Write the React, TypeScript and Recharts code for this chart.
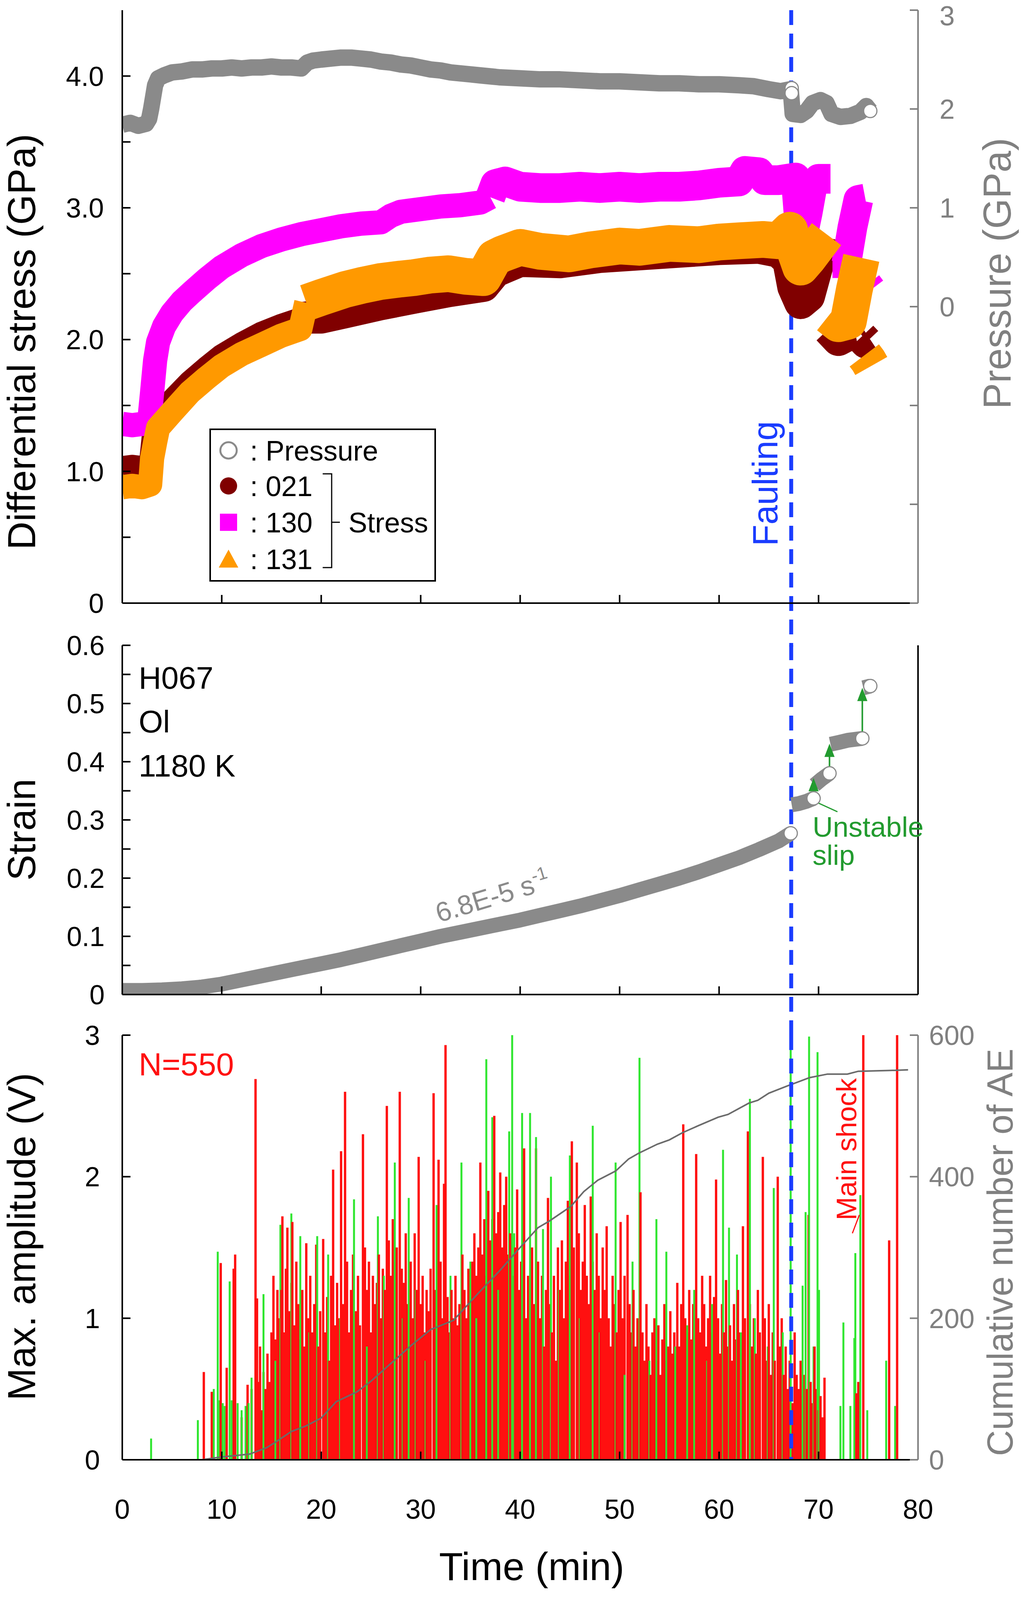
import React from 'react';
import { ComposedChart, Line, Bar, Scatter, XAxis, YAxis, ReferenceLine, Legend } from 'recharts';

const FONT = '"Liberation Sans", Arial, Helvetica, sans-serif';
const W = 2652;
const GREY = '#8a8a8a';
const AXIS_GREY = '#808080';
const BLUE = '#1a3cff';
const MAGENTA = '#ff00ff';
const ORANGE = '#ff9900';
const DARKRED = '#800000';
const GREEN = '#229b2f';
const AE_RED = '#ff1010';
const AE_GREEN = '#2fe62f';

// ---------- ticks ----------
const timeTicks = [0, 10, 20, 30, 40, 50, 60, 70, 80];
const stressTicks = [0, 0.5, 1, 1.5, 2, 2.5, 3, 3.5, 4];
const pressureTicks = [-3, -2, -1, 0, 1, 2, 3];
const strainTicks = [0, 0.05, 0.1, 0.15, 0.2, 0.25, 0.3, 0.35, 0.4, 0.45, 0.5, 0.55, 0.6];
const strainLabels = ['0', '', '0.1', '', '0.2', '', '0.3', '', '0.4', '', '0.5', '', '0.6'];
const ampTicks = [0, 1, 2, 3];
const aeTicks = [0, 200, 400, 600];

const faultTime = 67.25;

// ---------- top panel: pressure (GPa, right axis) ----------
const pressure: [number, number][] = [
  [0, 1.84], [0.8, 1.86], [1.6, 1.83], [2.4, 1.85], [2.7, 1.9], [2.9, 2.0], [3.1, 2.12], [3.3, 2.24], [3.6, 2.31],
  [4.2, 2.34], [5, 2.37], [6, 2.38], [7, 2.4], [8, 2.4], [9, 2.41], [10, 2.41], [11, 2.42], [12, 2.41], [13, 2.42],
  [14, 2.42], [15, 2.43], [16, 2.42], [17, 2.42], [18, 2.41], [18.6, 2.47], [19.2, 2.49], [20, 2.5], [21, 2.51],
  [22, 2.52], [23, 2.52], [24, 2.51], [25, 2.5], [26, 2.48], [27, 2.47], [28, 2.45], [29, 2.44], [30, 2.42],
  [31, 2.4], [32, 2.39], [33, 2.37], [34, 2.36], [35, 2.35], [36, 2.34], [37, 2.33], [38, 2.32], [40, 2.31],
  [42, 2.3], [44, 2.3], [46, 2.29], [48, 2.28], [50, 2.28], [52, 2.27], [54, 2.26], [56, 2.26], [58, 2.25],
  [60, 2.25], [62, 2.24], [63.5, 2.23], [65, 2.2], [66.2, 2.18], [67.2, 2.2], [67.4, 1.95], [68.2, 1.94],
  [68.8, 1.98], [69.4, 2.06], [70.2, 2.09], [70.8, 2.06], [71.3, 1.95], [72.2, 1.92], [73.2, 1.93], [74.2, 1.97],
  [74.8, 2.03], [75.2, 1.98],
];
const pressureEnds: [number, number][] = [[67.3, 2.21], [67.3, 2.16], [75.2, 1.98]];

// ---------- top panel: differential stress (GPa, left axis) ----------
// loading ramp (narrow scatter) and flow part (wider scatter) of each reflection
const stress021Ramp: [number, number | null][] = [
  [0, 1.03], [1, 1.04], [2, 1.03], [2.8, 1.05], [3.1, 1.27], [3.6, 1.42], [5, 1.54], [6.8, 1.68], [8.5, 1.79],
  [10, 1.88], [12, 1.97], [14, 2.05], [16, 2.11], [18, 2.16],
];
const stress021Flow: [number, number | null][] = [
  [18, 2.16], [19, 2.17], [20, 2.17], [22.4, 2.21], [25.9, 2.27], [29.3, 2.32], [32.8, 2.37], [36.3, 2.41],
  [37.5, 2.52], [40, 2.6], [44, 2.59], [48, 2.63], [52, 2.65], [56, 2.67], [60, 2.69], [64, 2.7], [66, 2.67],
  [67.0, 2.6], [67.5, 2.4], [68.2, 2.28], [69, 2.33], [69.8, 2.55], [70.5, 2.78], [70.9, null], [71.0, 2.08],
  [72, 2.0], [73, 2.04], [73.7, 2.05], [73.8, null], [74.3, 2.02], [74.8, 1.98], [75.2, 2.0],
];
const stress130Ramp: [number, number | null][] = [
  [0, 1.36], [1, 1.35], [2, 1.36], [2.7, 1.37], [3.0, 1.6], [3.3, 1.84], [3.6, 1.98], [4.2, 2.1], [5, 2.2],
  [6, 2.29], [7, 2.36], [8.5, 2.46], [10, 2.55], [12, 2.64], [14, 2.71], [16, 2.76], [18, 2.8], [20, 2.83],
  [22, 2.86], [24, 2.88], [26, 2.89], [27, 2.94], [28, 2.97], [30, 2.99], [32, 3.01], [34, 3.02], [36, 3.04],
  [37, 3.08],
];
const stress130Flow: [number, number | null][] = [
  [37, 3.08], [37.5, 3.18], [38.5, 3.2], [40, 3.16], [42, 3.15], [44, 3.15], [46, 3.16], [48, 3.15], [50, 3.16],
  [52, 3.15], [54, 3.16], [56, 3.16], [58, 3.17], [60, 3.19], [62, 3.2], [62.6, 3.28], [64, 3.27], [64.6, 3.21],
  [66, 3.21], [67.7, 3.23], [68.1, 2.85], [68.4, 2.78], [68.9, 2.96], [69.4, 3.17], [70, 3.22], [71.2, 3.22],
  [71.3, null], [71.4, 2.58], [72.8, 2.58], [73.4, 2.85], [74, 3.06], [74.7, 3.07], [74.8, null], [74.9, 2.42],
  [75.3, 2.38],
];
const stress131Ramp: [number, number | null][] = [
  [0, 0.88], [1, 0.89], [2, 0.88], [2.8, 0.9], [3.0, 1.1], [3.3, 1.22], [3.6, 1.33], [5, 1.45], [6.8, 1.6],
  [8.5, 1.71], [10, 1.8], [12, 1.89], [14, 1.96], [16, 2.03], [17.9, 2.08], [18.5, 2.28],
];
const stress131Flow: [number, number | null][] = [
  [18.5, 2.28], [20, 2.32], [22.4, 2.38], [24, 2.41], [25.9, 2.44], [28, 2.46], [29.3, 2.47], [31, 2.49],
  [32.8, 2.5], [34.5, 2.48], [36.3, 2.47], [37.4, 2.62], [38.2, 2.65], [40, 2.7], [42, 2.67], [44.9, 2.65],
  [47, 2.68], [50, 2.71], [52, 2.7], [55, 2.73], [58, 2.72], [60, 2.74], [62, 2.75], [64.4, 2.76], [66, 2.75],
  [67.1, 2.83], [67.6, 2.68], [68.2, 2.55], [69, 2.62], [70, 2.72], [70.8, 2.8], [70.9, null], [71.0, 2.18],
  [72, 2.12], [73, 2.14], [73.6, 2.38], [74.3, 2.62], [74.4, null], [74.6, 1.88], [75.0, 1.84], [75.3, 1.8],
];

// ---------- middle panel: strain ----------
const strain: [number, number | null][] = [
  [0, 0.007], [2, 0.007], [4, 0.008], [6, 0.01], [8, 0.013], [10, 0.018], [12, 0.025], [14, 0.032], [16, 0.039],
  [18, 0.046], [20, 0.053], [22, 0.06], [24, 0.068], [26, 0.076], [28, 0.084], [30, 0.092], [32, 0.1],
  [34, 0.107], [36, 0.114], [38, 0.121], [40, 0.128], [42, 0.136], [44, 0.144], [46, 0.152], [48, 0.161],
  [50, 0.17], [52, 0.18], [54, 0.19], [56, 0.2], [58, 0.211], [60, 0.223], [62, 0.235], [64, 0.249],
  [66, 0.264], [67.2, 0.277], [67.25, null], [67.3, 0.326], [68, 0.328], [68.8, 0.332], [69.5, 0.337],
  [69.55, null], [69.6, 0.36], [70.3, 0.37], [71.1, 0.38], [71.15, null], [71.2, 0.43], [72, 0.433],
  [73, 0.437], [74.4, 0.44], [74.45, null], [74.5, 0.527], [75.2, 0.53],
];
const strainEnds: [number, number][] = [[67.2, 0.277], [69.5, 0.337], [71.1, 0.38], [74.4, 0.44], [75.2, 0.53]];
// [time, from strain, to strain]
const slipArrows: [number, number, number][] = [[69.5, 0.34, 0.372], [71.1, 0.389, 0.431], [74.4, 0.45, 0.527]];

// ---------- bottom panel: acoustic emission ----------
const redEvents: [number, number][] = [
  [8.2, 0.62], [9.0, 0.48], [9.9, 1.39], [10.5, 0.65], [11.2, 1.35], [11.35, 1.45], [12.0, 0.3], [12.6, 0.53], [13.0, 0.5],
  [13.4, 2.69], [13.55, 1.14], [13.7, 0.55], [13.85, 0.8], [14.0, 0.35], [14.2, 0.62], [14.4, 0.5], [14.6, 0.75], [14.8, 0.55],
  [15.0, 0.9], [15.2, 1.3], [15.4, 0.85], [15.6, 1.2], [15.8, 1.0], [16.0, 1.2], [16.1, 1.72], [16.3, 0.9], [16.45, 1.35],
  [16.6, 1.64], [16.8, 1.05], [17.0, 1.25], [17.1, 1.68], [17.3, 0.95], [17.5, 1.4], [17.7, 1.1], [17.9, 0.85], [18.1, 1.2],
  [18.3, 0.8], [18.5, 1.53], [18.7, 1.0], [18.9, 1.3], [19.1, 0.9], [19.3, 1.1], [19.5, 1.52], [19.7, 0.8], [19.9, 1.05],
  [20.2, 1.56], [20.4, 0.9], [20.6, 1.15], [20.8, 0.7], [21.0, 1.3], [21.2, 2.05], [21.4, 0.95], [21.6, 1.25], [21.8, 1.0],
  [22.0, 2.18], [22.2, 1.1], [22.4, 2.6], [22.6, 1.4], [22.8, 0.9], [23.0, 1.2], [23.2, 1.45], [23.5, 1.05], [23.7, 1.3],
  [23.9, 0.95], [24.2, 2.3], [24.4, 1.5], [24.6, 1.2], [24.8, 1.4], [25.0, 0.9], [25.2, 1.3], [25.4, 1.1], [25.6, 1.25],
  [25.8, 1.45], [26.0, 1.0], [26.2, 1.35], [26.4, 1.2], [26.6, 2.5], [26.8, 1.55], [27.0, 1.3], [27.2, 1.7], [27.4, 1.4],
  [27.6, 1.5], [27.9, 2.6], [28.1, 1.35], [28.3, 1.25], [28.5, 1.6], [28.7, 1.1], [29.0, 1.4], [29.2, 1.0], [29.4, 1.6],
  [29.6, 1.2], [29.8, 2.14], [30.0, 1.1], [30.2, 1.3], [30.4, 0.9], [30.6, 1.2], [30.8, 1.05], [31.0, 1.35], [31.3, 2.59],
  [31.5, 1.2], [31.8, 2.12], [32.0, 1.4], [32.2, 1.0], [32.35, 1.95], [32.5, 2.93], [32.7, 1.15], [32.9, 0.9], [33.1, 1.2],
  [33.3, 1.0], [33.5, 1.3], [33.7, 0.95], [33.9, 1.1], [34.2, 1.45], [34.4, 1.2], [34.6, 1.0], [34.8, 1.35], [35.0, 1.15],
  [35.2, 1.4], [35.4, 1.6], [35.6, 1.3], [35.8, 1.5], [36.0, 2.1], [36.2, 1.45], [36.4, 1.7], [36.6, 1.3], [36.8, 1.9],
  [37.0, 1.55], [37.2, 1.7], [37.4, 2.43], [37.6, 1.6], [37.8, 1.75], [38.0, 2.03], [38.2, 1.5], [38.4, 1.8], [38.6, 2.0],
  [38.8, 1.45], [39.0, 1.6], [39.2, 1.3], [39.5, 1.5], [39.7, 1.91], [39.9, 1.2], [40.1, 1.4], [40.4, 2.2], [40.6, 1.0],
  [40.8, 1.3], [41.0, 0.9], [41.2, 1.5], [41.4, 1.1], [41.6, 2.2], [41.8, 1.4], [42.0, 1.0], [42.2, 1.3], [42.4, 0.8],
  [42.6, 1.2], [42.8, 1.85], [43.0, 1.1], [43.2, 0.9], [43.4, 1.3], [43.6, 0.7], [43.8, 1.5], [44.0, 1.2], [44.2, 1.55],
  [44.4, 1.0], [44.6, 1.4], [44.8, 1.83], [45.0, 1.3], [45.2, 2.25], [45.4, 1.5], [45.7, 2.1], [45.9, 1.6], [46.1, 1.2],
  [46.3, 1.4], [46.5, 1.8], [46.7, 1.3], [46.9, 1.1], [47.1, 1.86], [47.3, 1.4], [47.5, 1.2], [47.7, 1.6], [47.9, 1.3],
  [48.1, 1.0], [48.3, 1.5], [48.5, 1.2], [48.7, 1.65], [48.9, 1.0], [49.1, 0.8], [49.3, 1.3], [49.5, 1.1], [49.7, 0.9],
  [49.9, 1.2], [50.1, 1.68], [50.3, 1.0], [50.5, 1.3], [50.8, 1.73], [51.0, 1.1], [51.2, 0.9], [51.4, 1.2], [51.6, 0.8],
  [51.8, 1.0], [52.1, 1.89], [52.3, 0.9], [52.5, 0.7], [52.7, 1.1], [52.9, 0.8], [53.1, 0.6], [53.3, 0.9], [53.5, 1.0],
  [53.7, 0.7], [53.9, 0.95], [54.1, 0.6], [54.3, 0.85], [54.5, 1.1], [54.7, 0.7], [54.9, 0.8], [55.1, 1.05], [55.3, 0.75],
  [55.5, 0.9], [55.8, 1.25], [56.0, 0.8], [56.2, 1.1], [56.4, 2.37], [56.6, 1.0], [56.8, 0.9], [57.0, 1.2], [57.2, 0.85],
  [57.4, 1.1], [57.7, 2.16], [57.9, 1.0], [58.1, 0.9], [58.3, 1.3], [58.5, 1.1], [58.7, 0.8], [58.9, 1.0], [59.1, 1.3],
  [59.3, 0.9], [59.5, 1.15], [59.7, 1.98], [59.9, 1.0], [60.1, 0.75], [60.3, 1.1], [60.5, 0.9], [60.7, 1.27], [60.9, 0.8],
  [61.1, 0.95], [61.3, 0.7], [61.5, 1.1], [61.7, 0.85], [61.9, 1.2], [62.1, 0.9], [62.4, 1.65], [62.6, 1.0], [62.9, 2.32],
  [63.1, 1.1], [63.3, 0.8], [63.5, 1.0], [63.7, 0.75], [63.9, 1.2], [64.1, 0.9], [64.4, 2.14], [64.6, 1.0], [64.8, 0.7],
  [65.0, 1.1], [65.2, 0.6], [65.4, 0.9], [65.6, 0.7], [65.9, 2.0], [66.1, 0.8], [66.3, 1.0], [66.5, 0.6], [66.7, 0.8],
  [66.9, 0.5], [67.1, 0.7], [67.4, 0.4], [67.6, 0.9], [67.8, 0.6], [68.0, 0.5], [68.2, 0.7], [68.4, 0.45], [68.6, 0.6],
  [68.8, 0.5], [69.0, 1.73], [69.2, 0.55], [69.4, 0.4], [69.6, 0.8], [69.8, 0.5], [70.0, 0.35], [70.2, 0.45], [70.4, 0.3],
  [70.6, 0.58], [73.8, 0.47], [74.0, 0.55], [74.5, 3.0], [77.1, 1.55], [77.9, 3.0],
];
const greenEvents: [number, number][] = [
  [2.9, 0.15], [7.6, 0.28], [9.2, 0.5], [9.6, 1.47], [9.8, 0.42], [10.1, 0.4], [10.3, 0.38], [10.8, 1.26], [11.0, 0.42],
  [11.6, 0.4], [12.0, 0.35], [12.4, 0.38], [12.7, 0.4], [13.0, 0.58], [14.2, 1.17], [15.4, 0.7], [15.9, 1.66], [17.0, 1.74],
  [17.9, 1.58], [18.8, 0.9], [19.6, 1.58], [20.7, 1.45], [21.9, 1.0], [23.3, 1.84], [24.6, 0.8], [25.7, 1.72], [26.3, 1.3],
  [27.4, 2.1], [28.2, 1.0], [28.8, 1.85], [29.5, 1.2], [30.5, 0.7], [31.6, 1.8], [33.0, 1.3], [34.1, 2.1], [35.0, 1.4],
  [35.6, 1.0], [36.6, 2.83], [37.2, 2.42], [37.8, 1.2], [38.9, 2.32], [39.2, 3.0], [39.4, 1.6], [40.2, 2.45], [41.0, 2.45],
  [41.6, 2.28], [42.3, 1.63], [43.1, 2.0], [43.9, 1.2], [45.0, 2.15], [46.0, 1.0], [47.3, 2.36], [48.0, 0.9], [49.6, 2.1],
  [50.5, 0.6], [51.3, 1.4], [52.0, 2.84], [53.0, 0.7], [53.7, 1.7], [54.7, 1.47], [55.6, 0.8], [56.8, 0.95], [57.5, 1.2],
  [58.8, 0.7], [59.3, 1.1], [60.4, 2.19], [61.0, 1.64], [61.8, 1.45], [62.2, 0.9], [63.1, 2.55], [63.6, 1.0], [64.9, 0.8],
  [65.5, 1.92], [66.4, 0.9], [67.2, 2.95], [68.4, 1.23], [68.7, 1.75], [69.05, 2.99], [69.5, 0.8], [69.9, 2.88], [70.05, 1.2],
  [72.2, 0.38], [72.5, 0.97], [73.2, 0.38], [73.6, 0.86], [73.7, 1.46], [74.2, 1.87], [74.9, 0.35], [76.8, 0.7], [77.7, 0.38],
];
const cumulativeAE: [number, number][] = [
  [0, 0], [8, 0], [10, 4], [12.8, 8], [14.5, 17], [15.2, 23], [17, 40], [18.5, 48], [20, 59], [21.5, 82], [23.6, 96],
  [25, 111], [27, 136], [29, 161], [31, 184], [33.3, 197], [35.7, 234], [38, 268], [40, 300], [41.8, 328], [42.9, 337],
  [45.1, 358], [46.4, 379], [47.8, 395], [49.6, 408], [50.9, 425], [51.9, 433], [53.8, 446], [55, 452], [56.3, 462],
  [57.9, 472], [59.9, 484], [60.9, 488], [63, 504], [63.9, 508], [65, 518], [67, 529], [69.1, 540], [70.9, 545],
  [72.9, 545], [74, 549], [77, 550], [79, 551],
];

// ---------- tables built from the arrays ----------
const rows = (arr: [number, number | null][], key: string) => arr.map(([t, v]) => ({ t, [key]: v }));
const pressureRows = rows(pressure, 'p');
const pressureEndRows = rows(pressureEnds, 'p');
const strainRows = rows(strain, 'e');
const strainEndRows = rows(strainEnds, 'e');
const cumRows = rows(cumulativeAE, 'n');
const eventRows = [
  ...redEvents.map(([t, a]) => ({ t, amp: a, c: AE_RED, w: 6 })),
  ...greenEvents.map(([t, a]) => ({ t, amp: a, c: AE_GREEN, w: 5 })),
].sort((a, b) => a.t - b.t);

const stressSeries = [
  { rows: rows(stress021Ramp, 's'), color: DARKRED, width: 58 },
  { rows: rows(stress021Flow, 's'), color: DARKRED, width: 84 },
  { rows: rows(stress130Ramp, 's'), color: MAGENTA, width: 62 },
  { rows: rows(stress130Flow, 's'), color: MAGENTA, width: 76 },
  { rows: rows(stress131Ramp, 's'), color: ORANGE, width: 62 },
  { rows: rows(stress131Flow, 's'), color: ORANGE, width: 94 },
];

// ---------- styles ----------
const blackLine = { stroke: '#000', strokeWidth: 4 };
const greyLine = { stroke: AXIS_GREY, strokeWidth: 4 };
const tickFont = { fontSize: 70, fill: '#000', fontFamily: FONT };
const tickFontGrey = { fontSize: 70, fill: AXIS_GREY, fontFamily: FONT };

const PressureTick = (p: any) => {
  const v = p.payload && p.payload.value;
  if (v === undefined || v < 0) return <g />;
  return (
    <text x={p.x} y={p.y + (v === 3 ? 14 : 0)} dy="0.36em" textAnchor="start" fontSize={70} fill={AXIS_GREY}
      fontFamily={FONT}>{String(v)}</text>
  );
};

const OpenCircle = (p: any) => (
  <circle cx={p.cx} cy={p.cy} r={17} fill="#fff" stroke={GREY} strokeWidth={3} />
);

const AEBar = (p: any) => {
  if (!p || !p.payload || !(p.height > 0)) return <g />;
  const w = p.payload.w;
  const cx = p.x + p.width / 2;
  return <rect x={cx - w / 2} y={p.y} width={w} height={p.height} fill={p.payload.c} />;
};

const Arrow = (p: any) => {
  const { x1, y1, x2, y2 } = p;
  const head = 34;
  const half = 13;
  return (
    <g>
      <line x1={x1} y1={y1} x2={x2} y2={y2 + head - 4} stroke={GREEN} strokeWidth={4} />
      <polygon points={`${x2},${y2} ${x2 - half},${y2 + head} ${x2 + half},${y2 + head}`} fill={GREEN} />
    </g>
  );
};

const LegendBox = () => (
  <svg width={580} height={392} style={{ display: 'block', fontFamily: FONT }}>
    <rect x={2} y={2} width={576} height={388} fill="#fff" stroke="#000" strokeWidth={4} />
    <circle cx={49} cy={56} r={21} fill="#fff" stroke={GREY} strokeWidth={5} />
    <text x={104} y={82} fontSize={72}>: Pressure</text>
    <circle cx={49} cy={147} r={22} fill={DARKRED} />
    <text x={104} y={173} fontSize={72}>: 021</text>
    <rect x={27} y={218} width={44} height={44} fill={MAGENTA} />
    <text x={104} y={266} fontSize={72}>: 130</text>
    <polygon points="49,310 74,356 24,356" fill={ORANGE} />
    <text x={104} y={360} fontSize={72}>: 131</text>
    <path d="M 290 116 H 313 V 356 H 290" fill="none" stroke="#000" strokeWidth={3} />
    <line x1={313} y1={240} x2={334} y2={240} stroke="#000" strokeWidth={3} />
    <text x={356} y={266} fontSize={72}>Stress</text>
  </svg>
);

const TopPanel = () => (
  <ComposedChart width={W} height={1660} margin={{ top: 26, right: 0, bottom: 86, left: 0 }}>
    <XAxis dataKey="t" type="number" domain={[0, 80]} ticks={timeTicks} interval={0} tickFormatter={() => ''}
      tickSize={-21} axisLine={blackLine} tickLine={blackLine} height={30} allowDataOverflow />
    <XAxis xAxisId="top" orientation="top" type="number" domain={[0, 80]} height={0} tick={false}
      tickLine={false} axisLine={blackLine} />
    <YAxis yAxisId="s" type="number" domain={[0, 4.5]} ticks={stressTicks} interval={0} width={313}
      tickFormatter={(v: number) => (v === 0 ? '0' : Number.isInteger(v) ? v.toFixed(1) : '')}
      tickSize={-21} tickMargin={68} axisLine={blackLine} tickLine={blackLine} tick={tickFont} allowDataOverflow />
    <YAxis yAxisId="p" orientation="right" type="number" domain={[-3, 3]} ticks={pressureTicks} interval={0}
      width={302} tickSize={-21} tickMargin={76} axisLine={greyLine} tickLine={greyLine} tick={PressureTick}
      allowDataOverflow />
    <ReferenceLine yAxisId="s" segment={[{ x: faultTime, y: 4.5 }, { x: faultTime, y: -0.33 }]} ifOverflow="visible"
      stroke={BLUE} strokeWidth={10} strokeDasharray="38 22" />
    <Line yAxisId="p" data={pressureRows} dataKey="p" type="linear" stroke={GREY} strokeWidth={42}
      strokeLinejoin="round" dot={false} isAnimationActive={false} />
    <Scatter yAxisId="p" data={pressureEndRows} dataKey="p" shape={OpenCircle} isAnimationActive={false} />
    {stressSeries.map((s, i) => (
      <Line key={i} yAxisId="s" data={s.rows} dataKey="s" type="linear" stroke={s.color} strokeWidth={s.width}
        strokeLinejoin="round" dot={false} isAnimationActive={false} />
    ))}
    <Legend layout="vertical" align="center" verticalAlign="middle" content={() => <LegendBox />}
      wrapperStyle={{ position: 'absolute', left: 536, top: 1097, width: 580, height: 392 }} />
  </ComposedChart>
);

const MiddlePanel = () => (
  <ComposedChart width={W} height={1060} margin={{ top: 52, right: 0, bottom: 84, left: 0 }}>
    <XAxis dataKey="t" type="number" domain={[0, 80]} ticks={timeTicks} interval={0} tickFormatter={() => ''}
      tickSize={-21} axisLine={blackLine} tickLine={blackLine} height={30} allowDataOverflow />
    <XAxis xAxisId="top" orientation="top" type="number" domain={[0, 80]} height={0} tick={false}
      tickLine={false} axisLine={blackLine} />
    <YAxis yAxisId="e" type="number" domain={[0, 0.6]} ticks={strainTicks} interval={0} width={313}
      tickFormatter={(v: number, i: number) => strainLabels[i] ?? ''}
      tickSize={-21} tickMargin={66} axisLine={blackLine} tickLine={blackLine} tick={tickFont} allowDataOverflow />
    <YAxis yAxisId="r" orientation="right" type="number" domain={[0, 1]} width={302} tick={false}
      tickLine={false} axisLine={blackLine} />
    <ReferenceLine yAxisId="e" segment={[{ x: faultTime, y: 0.6 }, { x: faultTime, y: -0.071 }]} ifOverflow="visible"
      stroke={BLUE} strokeWidth={10} strokeDasharray="38 22" />
    <Line yAxisId="e" data={strainRows} dataKey="e" type="linear" stroke={GREY} strokeWidth={38}
      strokeLinejoin="round" dot={false} isAnimationActive={false} />
    <Scatter yAxisId="e" data={strainEndRows} dataKey="e" shape={OpenCircle} isAnimationActive={false} />
    {slipArrows.map(([t, a, b], i) => (
      <ReferenceLine key={i} yAxisId="e" segment={[{ x: t, y: a }, { x: t, y: b }]} shape={Arrow} />
    ))}
    <ReferenceLine yAxisId="e" segment={[{ x: 69.6, y: 0.332 }, { x: 71.9, y: 0.314 }]} stroke={GREEN} strokeWidth={3} />
  </ComposedChart>
);

const BottomPanel = () => (
  <ComposedChart width={W} height={1500} data={eventRows} margin={{ top: 50, right: 0, bottom: 213, left: 0 }}>
    <XAxis dataKey="t" type="number" domain={[0, 80]} ticks={timeTicks} interval={0} tickSize={-21} tickMargin={122}
      axisLine={blackLine} tickLine={blackLine} tick={tickFont} height={150} allowDataOverflow />
    <XAxis xAxisId="top" orientation="top" type="number" domain={[0, 80]} ticks={timeTicks} interval={0} height={0}
      tick={false} tickSize={-21} tickLine={blackLine} axisLine={blackLine} />
    <YAxis yAxisId="a" type="number" domain={[0, 3]} ticks={ampTicks} interval={0} width={313} tickSize={-21}
      tickMargin={78} axisLine={blackLine} tickLine={blackLine} tick={tickFont} allowDataOverflow />
    <YAxis yAxisId="ae" orientation="right" type="number" domain={[0, 600]} ticks={aeTicks} interval={0} width={302}
      tickSize={-21} tickMargin={49} axisLine={greyLine} tickLine={greyLine} tick={tickFontGrey} allowDataOverflow />
    <Bar yAxisId="a" dataKey="amp" barSize={6} shape={AEBar} isAnimationActive={false} />
    <Line yAxisId="ae" data={cumRows} dataKey="n" type="linear" stroke="#6a6a6a" strokeWidth={4} dot={false}
      isAnimationActive={false} />
    <ReferenceLine yAxisId="a" segment={[{ x: faultTime, y: 3 }, { x: faultTime, y: 0 }]} ifOverflow="visible"
      stroke={BLUE} strokeWidth={10} strokeDasharray="38 22" />
    <ReferenceLine yAxisId="a" segment={[{ x: 73.4, y: 1.6 }, { x: 74.1, y: 1.73 }]} stroke={AE_RED} strokeWidth={3} />
  </ComposedChart>
);

const Overlay = () => (
  <svg width={W} height={4100} style={{ position: 'absolute', left: 0, top: 0, pointerEvents: 'none' }}
    fontFamily={FONT}>
    <text transform="translate(90,875) rotate(-90)" textAnchor="middle" fontSize={100} fill="#000">
      Differential stress (GPa)
    </text>
    <text transform="translate(2587,700) rotate(-90)" textAnchor="middle" fontSize={100} fill={AXIS_GREY}>
      Pressure (GPa)
    </text>
    <text transform="translate(1990,1238) rotate(-90)" textAnchor="middle" fontSize={90} fill={BLUE}>
      Faulting
    </text>
    <text transform="translate(90,2124) rotate(-90)" textAnchor="middle" fontSize={100} fill="#000">Strain</text>
    <text x={355} y={1763} fontSize={80} fill="#000">H067</text>
    <text x={355} y={1875} fontSize={80} fill="#000">Ol</text>
    <text x={355} y={1988} fontSize={80} fill="#000">1180 K</text>
    <text transform="translate(1268,2318) rotate(-17)" textAnchor="middle" fontSize={70} fill={GREY}>
      6.8E-5 s<tspan dy={-28} fontSize={46}>-1</tspan>
    </text>
    <text x={2080} y={2142} fontSize={72} fill={GREEN}>Unstable</text>
    <text x={2080} y={2214} fontSize={72} fill={GREEN}>slip</text>
    <text transform="translate(90,3166) rotate(-90)" textAnchor="middle" fontSize={100} fill="#000">
      Max. amplitude (V)
    </text>
    <text transform="translate(2592,3206) rotate(-90)" textAnchor="middle" fontSize={92} fill={AXIS_GREY}>
      Cumulative number of AE
    </text>
    <text x={355} y={2753} fontSize={82} fill={AE_RED}>N=550</text>
    <text transform="translate(2192,2942) rotate(-90)" textAnchor="middle" fontSize={72} fill={AE_RED}>
      Main shock
    </text>
    <text x={1361} y={4045} textAnchor="middle" fontSize={100} fill="#000">Time (min)</text>
  </svg>
);

export default function App() {
  return (
    <div style={{ position: 'absolute', left: 0, top: 0, width: W, height: 4100, background: '#fff', fontFamily: FONT }}>
      <div style={{ position: 'absolute', left: 0, top: 0 }}>
        <TopPanel />
      </div>
      <div style={{ position: 'absolute', left: 0, top: 1600 }}>
        <MiddlePanel />
      </div>
      <div style={{ position: 'absolute', left: 0, top: 2600 }}>
        <BottomPanel />
      </div>
      <Overlay />
    </div>
  );
}
